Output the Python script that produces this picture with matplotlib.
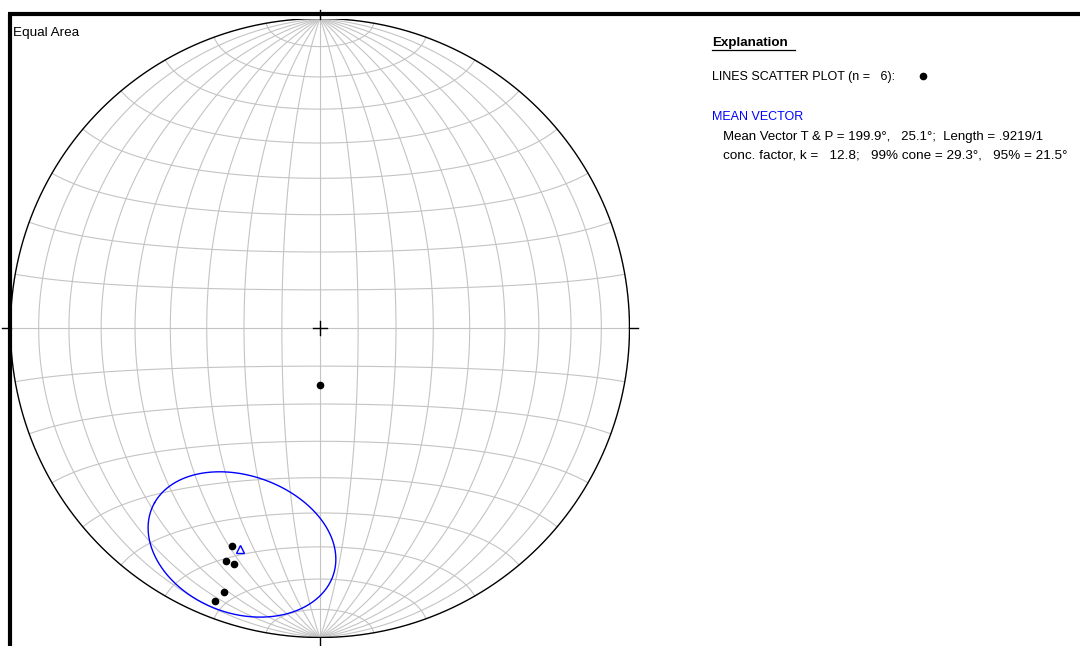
import numpy as np
import matplotlib
matplotlib.use("Agg")
from matplotlib import pyplot as plt

# lines (trend, plunge) in degrees
trends = [180, 202, 202, 200, 200, 201]
plunges = [75, 25, 20, 20, 10, 6]

titulo = "Equal Area"
explicacao = "Explanation"
linha_scatter = "LINES SCATTER PLOT (n =   6):"
titulo_media = "MEAN VECTOR"
linha_media = "Mean Vector T & P = 199.9\u00b0,   25.1\u00b0;  Length = .9219/1"
linha_conc = "conc. factor, k =   12.8;   99% cone = 29.3\u00b0,   95% = 21.5\u00b0"

plt.rcParams['font.family'] = ['Liberation Sans', 'DejaVu Sans']


def projetar(x, y, z):
    # equal area, lower hemisphere (x=E, y=N, z=down)
    f = 1.0 / np.sqrt(1.0 + z)
    return x * f, y * f


def vetor(trend, plunge):
    t = np.radians(trend)
    p = np.radians(plunge)
    return np.cos(p) * np.sin(t), np.cos(p) * np.cos(t), np.sin(p)


W, H = 1080, 646
cx, cy, R = 320, 328, 309.5

fig = plt.figure(figsize=(W / 100, H / 100), dpi=100)

# net axes
ax = fig.add_axes([(cx - R) / W, (H - cy - R) / H, 2 * R / W, 2 * R / H])
ax.set_xlim(-1, 1)
ax.set_ylim(-1, 1)
ax.set_aspect('equal')
ax.axis('off')

cinza = '#c4c4c4'
s = np.linspace(0, np.pi, 361)
for a in range(10, 180, 10):
    ar = np.radians(a)
    x = np.sin(s) * np.cos(ar)
    y = np.cos(s)
    z = np.sin(s) * np.sin(ar)
    X, Y = projetar(x, y, z)
    ax.plot(X, Y, color=cinza, lw=0.8, zorder=1)
for b in range(10, 180, 10):
    br = np.radians(b)
    x = np.sin(br) * np.cos(s)
    y = np.full_like(s, np.cos(br))
    z = np.sin(br) * np.sin(s)
    X, Y = projetar(x, y, z)
    ax.plot(X, Y, color=cinza, lw=0.8, zorder=1)

# primitive
th = np.linspace(0, 2 * np.pi, 721)
ax.plot(np.cos(th), np.sin(th), color='black', lw=1.0, zorder=3)

# ticks N E S W and center cross
tk = 0.028
for dx, dy in [(0, 1), (1, 0), (0, -1), (-1, 0)]:
    ax.plot([dx, dx * (1 + tk)], [dy, dy * (1 + tk)], color='black', lw=1.0,
            clip_on=False, zorder=3)
cc = 0.024
ax.plot([-cc, cc], [0, 0], color='black', lw=1.0, zorder=3)
ax.plot([0, 0], [-cc, cc], color='black', lw=1.0, zorder=3)

# data points
xs, ys, zs = vetor(np.array(trends), np.array(plunges))
X, Y = projetar(xs, ys, zs)
ax.plot(X, Y, 'o', color='black', ms=4.5, zorder=5)

# mean vector and 95% cone
n = len(trends)
sx, sy, sz = xs.sum(), ys.sum(), zs.sum()
Rr = np.sqrt(sx ** 2 + sy ** 2 + sz ** 2)
m = np.array([sx, sy, sz]) / Rr
a95 = np.arccos(1 - (n - Rr) / Rr * (20 ** (1 / (n - 1)) - 1))
u = np.cross(m, [0, 0, 1.0])
u /= np.linalg.norm(u)
v = np.cross(m, u)
phi = np.linspace(0, 2 * np.pi, 361)
pts = (np.cos(a95) * m[:, None]
       + np.sin(a95) * (np.outer(u, np.cos(phi)) + np.outer(v, np.sin(phi))))
CX, CY = projetar(pts[0], pts[1], pts[2])
ax.plot(CX, CY, color='#0000ff', lw=1.0, zorder=4)
MX, MY = projetar(m[0], m[1], m[2])
ax.plot([MX], [MY], '^', mfc='none', mec='#0000ff', mew=1.0, ms=6, zorder=5)

# overlay in pixel coordinates for frame and text
ov = fig.add_axes([0, 0, 1, 1], zorder=-1)
ov.set_xlim(0, W)
ov.set_ylim(H, 0)
ov.axis('off')
ov.plot([8, W], [14, 14], color='black', lw=3.0, solid_capstyle='butt')
ov.plot([10, 10], [14, H], color='black', lw=3.0, solid_capstyle='butt')

ov.text(13, 33, titulo, fontsize=9.7, va='center', ha='left')
ov.text(712, 43, explicacao, fontsize=9.6, fontweight='bold', va='center', ha='left')
ov.plot([712, 795], [50, 50], color='black', lw=0.9)
ov.text(712, 77, linha_scatter, fontsize=9, va='center', ha='left')
ov.plot([923], [76], 'o', color='black', ms=4.5)
ov.text(712, 117, titulo_media, fontsize=9, va='center', ha='left', color='#0000ff')
ov.text(723, 137, linha_media, fontsize=9.55, va='center', ha='left')
ov.text(723, 156, linha_conc, fontsize=9.7, va='center', ha='left')

fig.savefig('out.png', dpi=100)
